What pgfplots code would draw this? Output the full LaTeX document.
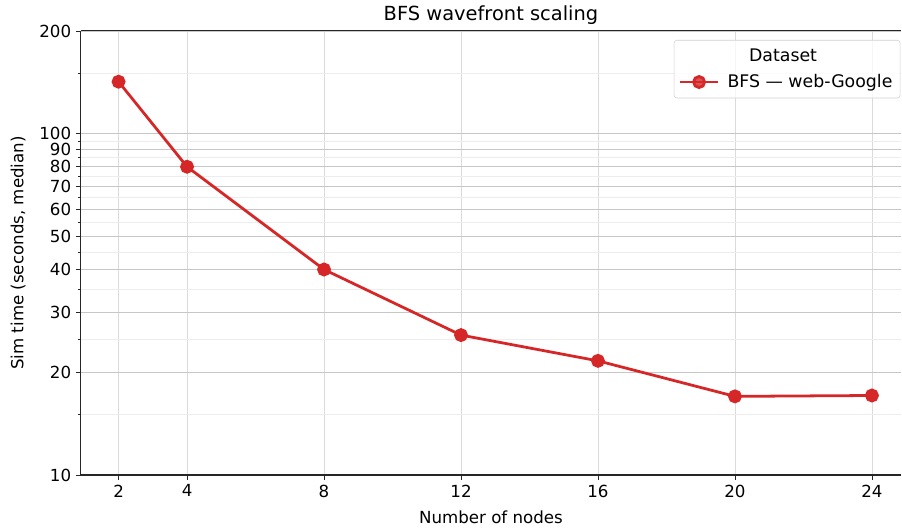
\documentclass[border=0pt]{standalone}
\usepackage{fontspec}
\setmainfont{DejaVu Sans}
\usepackage{pgfplots}
\pgfplotsset{compat=1.18}
\usetikzlibrary{calc}
\definecolor{mplred}{HTML}{D62728}
\begin{document}
\begin{tikzpicture}
\begin{axis}[
  scale only axis,
  width=591pt, height=320pt,
  ymode=log,
  xmin=0.9, xmax=24.85,
  ymin=10, ymax=200,
  xtick={2,4,8,12,16,20,24},
  ytick={10,20,30,40,50,60,70,80,90,100,200},
  yticklabels={10,20,30,40,50,60,70,80,90,100,200},
  minor ytick={15,25,35,45,55,65,75,85,95,150},
  /pgf/number format/assume math mode=true,
  axis x line*=box, axis y line*=left,
  xtick pos=bottom,
  tick align=outside,
  major tick length=3.5pt, minor tick length=2pt,
  every tick/.style={black!85, line width=0.6pt},
  axis line style={black!85, line width=0.8pt},
  ticklabel style={font=\fontsize{12}{14}\selectfont},
  grid=both,
  major x grid style={black!14, line width=0.6pt},
  major y grid style={black!22, line width=0.6pt},
  minor grid style={black!7, line width=0.6pt},
  title={BFS wavefront scaling},
  title style={font=\fontsize{14}{16}\selectfont, yshift=-5pt},
  xlabel={Number of nodes},
  ylabel={Sim time (seconds, median)},
  label style={font=\fontsize{12}{14}\selectfont},
  xlabel style={yshift=-2.5pt},
  ylabel style={yshift=3pt},
  legend style={at={(1,1)}, anchor=north east, xshift=-0.5pt, yshift=-6.5pt,
    draw=black!18, rounded corners=2pt, fill=white, fill opacity=0.8, text opacity=1,
    font=\fontsize{12.5}{15}\selectfont, cells={anchor=west},
    inner xsep=3.5pt, inner ysep=4pt, row sep=4pt, column sep=4pt},
  legend image code/.code={\draw[#1, mark repeat=2, mark phase=2] plot coordinates {(0pt,0pt) (13.5pt,0pt) (27pt,0pt)};},
]
\addlegendimage{empty legend}
\addlegendentry{\hspace*{40pt}\makebox[0pt][c]{Dataset}}
\addplot[mplred, line width=2pt, mark=*, mark size=4pt, mark options={solid, fill=mplred, draw=mplred}]
  coordinates {(2,142) (4,80) (8,40) (12,25.7) (16,21.6) (20,17.0) (24,17.1)};
\addlegendentry{BFS — web-Google}
\end{axis}
\pgfresetboundingbox
\path[use as bounding box] ($(current axis.south west)+(-58.3pt,-38.9pt)$) rectangle ($(current axis.north east)+(0.7pt,22.3pt)$);
\end{tikzpicture}
\end{document}
